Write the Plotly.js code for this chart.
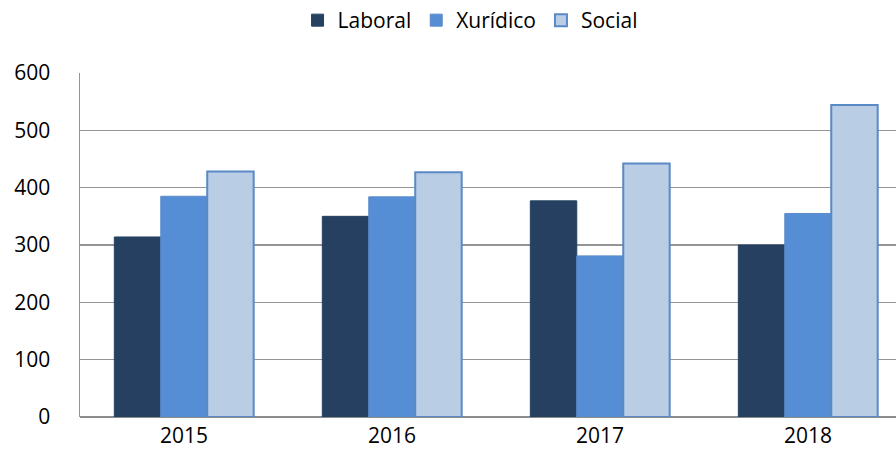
<!DOCTYPE html>
<html>
<head>
<meta charset="utf-8">
<script src="https://cdn.plot.ly/plotly-3.0.1.min.js"></script>
<style>html,body{margin:0;padding:0;background:#fff;}#chart{width:896px;height:460px;}</style>
</head>
<body>
<div id="chart"></div>
<script>
const years = ['2015', '2016', '2017', '2018'];
const laboral = [314, 350, 377, 300];
const xuridico = [385, 384, 281, 355];
const social = [428, 427, 442, 544];
const yTicks = [0, 100, 200, 300, 400, 500, 600];

const traces = [
  {type: 'bar', name: 'Laboral', x: years, y: laboral,
   marker: {color: '#254061', line: {color: '#254061', width: 1}}},
  {type: 'bar', name: 'Xurídico', x: years, y: xuridico,
   marker: {color: '#558ED5', line: {color: '#5B8BC9', width: 1}}},
  {type: 'bar', name: 'Social', x: years, y: social,
   marker: {color: '#B9CDE5', line: {color: '#5A8AC6', width: 2}}}
];

const layout = {
  width: 896, height: 460,
  margin: {l: 80, r: 0, t: 73, b: 43},
  paper_bgcolor: '#fff', plot_bgcolor: '#fff',
  font: {family: 'Open Sans, sans-serif', size: 21, color: '#000'},
  barmode: 'group', bargap: 0.33, bargroupgap: 0,
  showlegend: true,
  legend: {orientation: 'h', x: 0.478, xanchor: 'center', xref: 'paper',
           y: 1.154, yanchor: 'middle', yref: 'paper', font: {size: 21},
           itemwidth: 30, traceorder: 'normal'},
  xaxis: {type: 'category', range: [-0.5, 3.423], showgrid: false,
          showline: false, ticks: '', tickfont: {size: 21}, ticklabelstandoff: 4},
  yaxis: {range: [0, 600], tickvals: yTicks, ticktext: yTicks.map(String),
          showgrid: true, gridcolor: '#959595', gridwidth: 1.5,
          showline: true, linecolor: '#959595', linewidth: 1.5,
          zeroline: true, zerolinecolor: '#8C8C8C', zerolinewidth: 2,
          ticks: '', tickfont: {size: 21}, ticklabelstandoff: 24, fixedrange: true}
};

Plotly.newPlot('chart', traces, layout, {displayModeBar: false, staticPlot: true});
</script>
</body>
</html>
